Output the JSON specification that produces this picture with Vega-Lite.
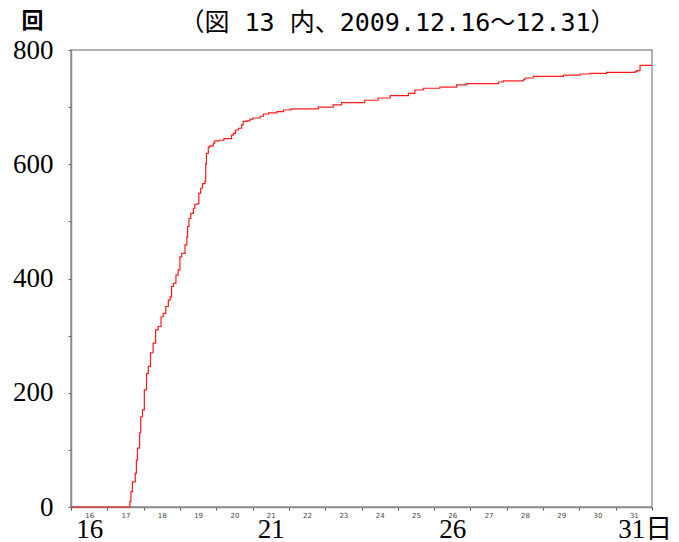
{
  "$schema": "https://vega.github.io/schema/vega-lite/v6.json",
  "width": 581,
  "height": 457,
  "autosize": {"type": "none"},
  "padding": {"left": 71, "top": 50, "right": 27, "bottom": 35},
  "background": "white",
  "config": {
    "view": {"stroke": "#999999", "strokeWidth": 1.5},
    "axis": {"grid": false}
  },
  "data": {
    "values": [
      {"day": 16.0, "count": 0},
      {"day": 17.62, "count": 10},
      {"day": 17.65, "count": 27},
      {"day": 17.69, "count": 44},
      {"day": 17.77, "count": 59},
      {"day": 17.8, "count": 82},
      {"day": 17.83, "count": 103},
      {"day": 17.89, "count": 130},
      {"day": 17.92, "count": 158},
      {"day": 17.97, "count": 170},
      {"day": 18.02, "count": 205},
      {"day": 18.08, "count": 234},
      {"day": 18.13, "count": 246},
      {"day": 18.19, "count": 270},
      {"day": 18.26, "count": 287},
      {"day": 18.33, "count": 310},
      {"day": 18.4, "count": 316},
      {"day": 18.48, "count": 333},
      {"day": 18.54, "count": 339},
      {"day": 18.61, "count": 351},
      {"day": 18.68, "count": 362},
      {"day": 18.73, "count": 368},
      {"day": 18.77, "count": 386},
      {"day": 18.82, "count": 392},
      {"day": 18.89, "count": 406},
      {"day": 18.95, "count": 415},
      {"day": 19.0, "count": 438},
      {"day": 19.05, "count": 444},
      {"day": 19.14, "count": 459},
      {"day": 19.19, "count": 473},
      {"day": 19.21, "count": 491},
      {"day": 19.25, "count": 505},
      {"day": 19.3, "count": 514},
      {"day": 19.37, "count": 523},
      {"day": 19.41, "count": 530},
      {"day": 19.49, "count": 531},
      {"day": 19.52, "count": 549},
      {"day": 19.57, "count": 558},
      {"day": 19.62, "count": 566},
      {"day": 19.69, "count": 571},
      {"day": 19.71, "count": 601},
      {"day": 19.73, "count": 619},
      {"day": 19.78, "count": 630},
      {"day": 19.82, "count": 632},
      {"day": 19.92, "count": 637},
      {"day": 19.96, "count": 641},
      {"day": 20.08, "count": 642},
      {"day": 20.21, "count": 645},
      {"day": 20.42, "count": 651},
      {"day": 20.47, "count": 654},
      {"day": 20.53, "count": 660},
      {"day": 20.61, "count": 663},
      {"day": 20.7, "count": 669},
      {"day": 20.74, "count": 675},
      {"day": 20.84, "count": 676},
      {"day": 20.93, "count": 679},
      {"day": 21.01, "count": 681},
      {"day": 21.21, "count": 684},
      {"day": 21.3, "count": 688},
      {"day": 21.44, "count": 690},
      {"day": 21.67, "count": 692},
      {"day": 21.85, "count": 695},
      {"day": 22.06, "count": 697},
      {"day": 22.81, "count": 700},
      {"day": 23.22, "count": 704},
      {"day": 23.45, "count": 708},
      {"day": 24.09, "count": 712},
      {"day": 24.46, "count": 716},
      {"day": 24.79, "count": 720},
      {"day": 25.29, "count": 724},
      {"day": 25.47, "count": 730},
      {"day": 25.7, "count": 733},
      {"day": 26.16, "count": 735},
      {"day": 26.62, "count": 739},
      {"day": 26.9, "count": 741},
      {"day": 27.77, "count": 744},
      {"day": 27.91, "count": 746},
      {"day": 28.46, "count": 748},
      {"day": 28.5, "count": 751},
      {"day": 28.73, "count": 754},
      {"day": 29.56, "count": 756},
      {"day": 30.02, "count": 758},
      {"day": 30.29, "count": 759},
      {"day": 30.75, "count": 761},
      {"day": 31.53, "count": 762},
      {"day": 31.58, "count": 764},
      {"day": 31.67, "count": 773},
      {"day": 32.0, "count": 773}
    ]
  },
  "encoding": {
    "y": {
      "field": "count",
      "type": "quantitative",
      "scale": {"domain": [0, 800], "nice": false},
      "axis": {
        "values": [0, 100, 200, 300, 400, 500, 600, 700, 800],
        "labelExpr": "datum.value % 200 == 0 ? datum.label : ''",
        "labelFont": "Liberation Serif",
        "labelFontSize": 27,
        "labelColor": "#000000",
        "labelPadding": 15,
        "tickSize": 3,
        "tickColor": "#666666",
        "domainColor": "#888888",
        "domainWidth": 1.5,
        "title": "回",
        "titleAngle": 0,
        "titleX": -39,
        "titleY": -30,
        "titleAlign": "center",
        "titleBaseline": "middle",
        "titleFont": "Noto Sans CJK JP",
        "titleFontSize": 22,
        "titleFontWeight": "bold",
        "titleColor": "#000000"
      }
    }
  },
  "layer": [
    {
      "mark": {"type": "line", "interpolate": "step-after", "color": "#ff1a1a", "strokeWidth": 1.2},
      "encoding": {
        "x": {
          "field": "day",
          "type": "quantitative",
          "scale": {"domain": [16, 32], "nice": false, "zero": false},
          "axis": {
            "orient": "bottom",
            "values": [16, 17, 18, 19, 20, 21, 22, 23, 24, 25, 26, 27, 28, 29, 30, 31, 32],
            "labelExpr": "datum.value < 32 ? datum.label : ''",
            "labelOffset": 18.16,
            "labelFont": "DejaVu Sans",
            "labelFontSize": 7,
            "labelColor": "#444444",
            "labelPadding": 1,
            "labelFlush": false,
            "labelOverlap": false,
            "tickSize": 3,
            "tickColor": "#555555",
            "domainColor": "#888888",
            "domainWidth": 1.5,
            "title": null
          }
        }
      }
    },
    {
      "mark": {"type": "line", "interpolate": "step-after", "strokeOpacity": 0},
      "encoding": {
        "x": {
          "field": "day",
          "type": "quantitative",
          "scale": {"domain": [16, 32], "nice": false, "zero": false},
          "axis": {
            "orient": "bottom",
            "values": [16, 21, 26, 31],
            "labelExpr": "datum.value == 31 ? '31日' : datum.label",
            "labelOffset": {"condition": {"test": "datum.value == 31", "value": 2}, "value": 18.16},
            "labelAlign": {"condition": {"test": "datum.value == 31", "value": "left"}, "value": "center"},
            "labelFont": "Liberation Serif, Noto Sans CJK JP",
            "labelFontSize": 27,
            "labelColor": "#000000",
            "labelBaseline": "alphabetic",
            "labelPadding": 30,
            "labelFlush": false,
            "labelOverlap": false,
            "ticks": false,
            "tickSize": 0,
            "domain": false,
            "title": null
          }
        }
      }
    },
    {
      "mark": {"type": "line", "strokeOpacity": 0},
      "encoding": {
        "x": {
          "field": "day",
          "type": "quantitative",
          "scale": {"domain": [16, 32], "nice": false, "zero": false},
          "axis": {
            "orient": "top",
            "labels": false,
            "ticks": false,
            "domain": false,
            "title": "（図 13 内、2009.12.16～12.31）",
            "titleX": 326,
            "titleY": -28,
            "titleAlign": "center",
            "titleBaseline": "middle",
            "titleFont": "DejaVu Sans Mono, Noto Sans CJK JP",
            "titleFontSize": 25,
            "titleFontWeight": "normal",
            "titleColor": "#000000"
          }
        }
      }
    }
  ],
  "resolve": {"axis": {"x": "independent"}}
}
